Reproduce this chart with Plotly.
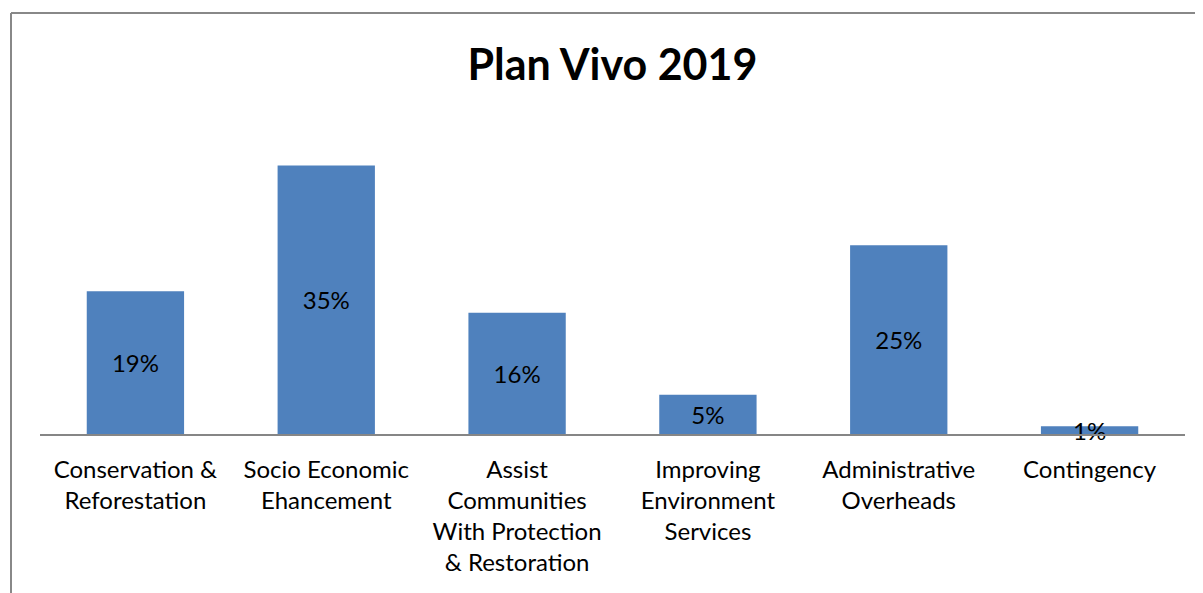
import plotly.graph_objects as go

categories = [
    "Conservation &<br>Reforestation",
    "Socio Economic<br>Ehancement",
    "Assist<br>Communities<br>With Protection<br>& Restoration",
    "Improving<br>Environment<br>Services",
    "Administrative<br>Overheads",
    "Contingency",
]
values = [18.6, 35.0, 15.8, 5.1, 24.6, 1.0]
labels = ["19%", "35%", "16%", "5%", "25%", "1%"]

FONT = "Lato"

fig = go.Figure(go.Bar(
    x=categories,
    y=values,
    text=labels,
    textposition="inside",
    insidetextanchor="middle",
    constraintext="none",
    textangle=0,
    cliponaxis=False,
    textfont=dict(family=FONT, size=24, color="black"),
    marker=dict(color="#4F81BD", line=dict(width=0)),
    width=0.51,
    hoverinfo="skip",
))

W, H = 1195, 585
L, R, T, B = 32, 18, 119, 159
PW, PH = W - L - R, H - T - B

fig.update_layout(
    width=W, height=H,
    margin=dict(l=L, r=R, t=T, b=B),
    paper_bgcolor="white", plot_bgcolor="white",
    title=dict(text="<b>Plan Vivo 2019</b>", x=0.5, xanchor="center", xref="paper",
               y=1 - 57/H, yanchor="middle",
               font=dict(family=FONT, size=43, color="black")),
    showlegend=False,
    xaxis=dict(showline=True, linecolor="#868686", linewidth=2, ticks="",
               tickfont=dict(family=FONT, size=24, color="black"),
               ticklabelstandoff=13,
               showgrid=False, zeroline=False, fixedrange=True),
    yaxis=dict(range=[0, 40], visible=False, showgrid=False, zeroline=False),
    shapes=[
        dict(type="line", xref="paper", yref="paper", x0=(3 - L)/PW, x1=1.05,
             y0=1 + (T - 5)/PH, y1=1 + (T - 5)/PH, line=dict(color="#888888", width=2)),
        dict(type="line", xref="paper", yref="paper", x0=(3 - L)/PW, x1=(3 - L)/PW,
             y0=1 + (T - 5)/PH, y1=-0.6, line=dict(color="#888888", width=2)),
    ],
)

fig.write_html("out.html")
